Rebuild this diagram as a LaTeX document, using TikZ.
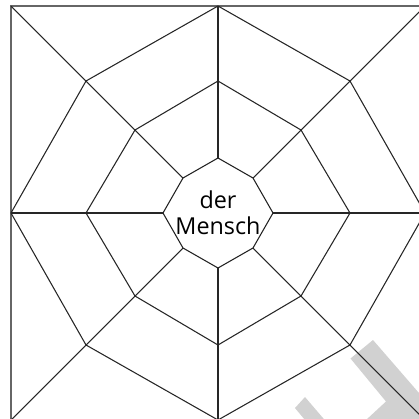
\documentclass[tikz,border=0pt]{standalone}
\usepackage{fontspec}
\setsansfont{Open Sans}
\begin{document}
\begin{tikzpicture}[x=0.75pt,y=-0.75pt,
  web/.style={line width=0.8pt, draw=black!85, line join=miter},
  frame/.style={line width=1.4pt, draw=black!60},
  wmark/.style={fill=black!18},
  label/.style={font=\sffamily\fontsize{17.5}{19.5}\selectfont, text=black, align=center, inner sep=0pt}]
\useasboundingbox (0,0) rectangle (419,419);
\clip (0,0) rectangle (419,419);
% watermark fragments
\fill[wmark] (350.5,358.5) -- (373,340) -- (432,408) -- (432,432) -- (353,432) -- (386,401.5) -- cycle;
\fill[wmark] (295,408) -- (305,397) -- (335,432) -- (315,432) -- cycle;
% square frame
\draw[frame] (11,6) rectangle (425,420);
\begin{scope}[shift={(218,213)}]
  \foreach \n/\a/\d in {i/55/35, m/132/83, o/207/132} {
    \coordinate (\n1) at (\a,0);
    \coordinate (\n2) at (\d,\d);
    \coordinate (\n3) at (0,\a);
    \coordinate (\n4) at (-\d,\d);
    \coordinate (\n5) at (-\a,0);
    \coordinate (\n6) at (-\d,-\d);
    \coordinate (\n7) at (0,-\a);
    \coordinate (\n8) at (\d,-\d);
    \draw[web] (\n1)--(\n2)--(\n3)--(\n4)--(\n5)--(\n6)--(\n7)--(\n8)--cycle;
  }
  \coordinate (c1) at (207,0);
  \coordinate (c2) at (207,207);
  \coordinate (c3) at (0,207);
  \coordinate (c4) at (-207,207);
  \coordinate (c5) at (-207,0);
  \coordinate (c6) at (-207,-207);
  \coordinate (c7) at (0,-207);
  \coordinate (c8) at (207,-207);
  \foreach \k in {1,...,8} \draw[web] (i\k) -- (c\k);
  \node[label] (mensch) at (0,0) {der\\Mensch};
\end{scope}
\end{tikzpicture}
\end{document}
